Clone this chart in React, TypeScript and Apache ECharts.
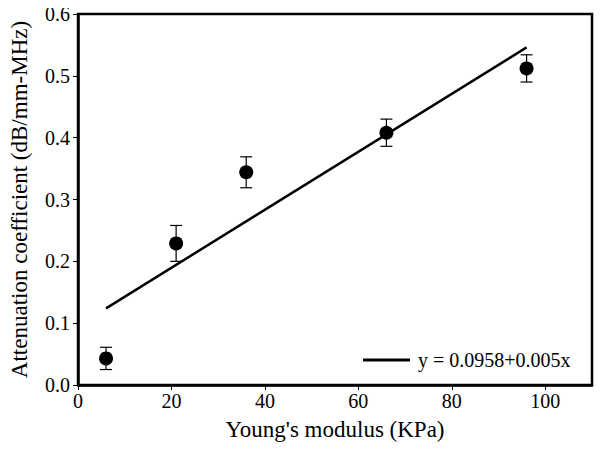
import React, { useEffect, useRef } from "react";
import * as echarts from "echarts";

const modulus = [6, 21, 36, 66, 96];
const attenuation = [0.043, 0.229, 0.344, 0.408, 0.512];
const errors = [0.018, 0.029, 0.025, 0.022, 0.022];
const fitX = [6, 96];
const fitY = [0.124, 0.546];
const fitLabel = "y = 0.0958+0.005x";
const xTitle = "Young's modulus (KPa)";
const yTitle = "Attenuation coefficient (dB/mm-MHz)";

const FONT = "Liberation Serif";

export default function App() {
  const ref = useRef<HTMLDivElement>(null);
  useEffect(() => {
    if (!ref.current) return;
    const chart = echarts.init(ref.current, null, { renderer: "svg" });
    const points = modulus.map((x, i) => [x, attenuation[i]]);
    const errData = modulus.map((x, i) => [x, attenuation[i] - errors[i], attenuation[i] + errors[i]]);
    const fitData = fitX.map((x, i) => [x, fitY[i]]);
    chart.setOption({
      animation: false,
      backgroundColor: "#fff",
      grid: {
        left: 77,
        right: 10,
        top: 14,
        bottom: 66,
        show: true,
        borderColor: "#000",
        borderWidth: 2.5,
        backgroundColor: "transparent",
      },
      legend: {
        left: 358,
        top: 345,
        itemWidth: 47,
        itemHeight: 3,
        itemGap: 10,
        data: [{ name: fitLabel, icon: "rect" }],
        textStyle: { fontFamily: FONT, fontSize: 20, color: "#000", padding: [0, 0, 0, 3] },
      },
      xAxis: {
        type: "value",
        min: 0,
        max: 110,
        interval: 20,
        name: xTitle,
        nameLocation: "middle",
        nameGap: 33,
        nameTextStyle: { fontFamily: FONT, fontSize: 23, color: "#000" },
        axisLine: { show: true, lineStyle: { color: "#000", width: 2.5 } },
        axisTick: { show: true, inside: false, length: 5, lineStyle: { color: "#000", width: 1 } },
        axisLabel: {
          fontFamily: FONT,
          fontSize: 20,
          color: "#000",
          margin: 6,
          showMaxLabel: false,
        },
        splitLine: { show: false },
      },
      yAxis: {
        type: "value",
        min: 0,
        max: 0.6,
        interval: 0.1,
        name: yTitle,
        nameLocation: "middle",
        nameGap: 47,
        nameTextStyle: { fontFamily: FONT, fontSize: 23, color: "#000" },
        axisLine: { show: true, lineStyle: { color: "#000", width: 2.5 } },
        axisTick: { show: true, inside: false, length: 5, lineStyle: { color: "#000", width: 1 } },
        axisLabel: {
          fontFamily: FONT,
          fontSize: 20,
          color: "#000",
          margin: 8,
          formatter: (v: number) => v.toFixed(1),
        },
        splitLine: { show: false },
      },
      series: [
        {
          name: fitLabel,
          type: "line",
          data: fitData,
          showSymbol: false,
          symbol: "none",
          lineStyle: { color: "#000", width: 2.5 },
          itemStyle: { color: "#000" },
          z: 2,
        },
        {
          name: "errors",
          type: "custom",
          data: errData,
          renderItem: (params: any, api: any) => {
            const x = api.value(0);
            const lo = api.coord([x, api.value(1)]);
            const hi = api.coord([x, api.value(2)]);
            const hw = 6;
            const style = { stroke: "#000", lineWidth: 1.2 };
            return {
              type: "group",
              children: [
                { type: "line", shape: { x1: lo[0], y1: lo[1], x2: hi[0], y2: hi[1] }, style },
                { type: "line", shape: { x1: lo[0] - hw, y1: lo[1], x2: lo[0] + hw, y2: lo[1] }, style },
                { type: "line", shape: { x1: hi[0] - hw, y1: hi[1], x2: hi[0] + hw, y2: hi[1] }, style },
              ],
            };
          },
          z: 3,
        },
        {
          name: "points",
          type: "scatter",
          data: points,
          symbol: "circle",
          symbolSize: 14,
          itemStyle: { color: "#000", opacity: 1 },
          z: 4,
        },
      ],
    });
    return () => chart.dispose();
  }, []);
  return <div ref={ref} style={{ width: 602, height: 451, margin: -8 }} />;
}
